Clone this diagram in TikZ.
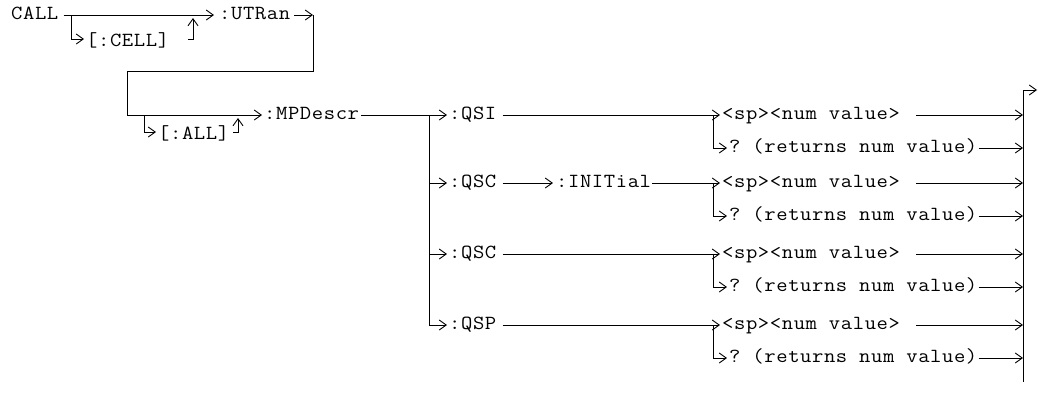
\documentclass[tikz,border=0pt]{standalone}
\usepackage{fontspec}
\setmonofont{Latin Modern Mono}[FakeStretch=1.1,LetterSpace=3]
\usetikzlibrary{arrows.meta}
\tikzset{
  txt/.style={anchor=west, inner sep=0pt, text height=12pt, text depth=3pt, font=\ttfamily\fontsize{20}{22}\selectfont},
  ln/.style={line width=0.9pt},
  arr/.style={ln, -{Straight Barb[length=7pt,width=10pt]}},
}
\begin{document}
\begin{tikzpicture}[x=1pt,y=-1pt]
\useasboundingbox[fill=white] (0,0) rectangle (1038,392);
% row 1
\node[txt] (call) at (11,15) {CALL};
\node[txt] (utran) at (219,15) {:UTRan};
\node[txt] (cell) at (86,42) {[:CELL]};
\coordinate (c1) at (71,15);
\coordinate (c2) at (193,15);
\coordinate (c3) at (188,39);
\draw[arr] ([xshift=5pt]call.east) -- ([xshift=-5pt]utran.west);
\draw[arr] (c1) |- ([xshift=-2pt,yshift=3pt]cell.west);
\draw[arr] (c3) -| ([yshift=-3pt]c2);
% loop
\coordinate (l1) at (313,15);
\coordinate (l2) at (127,71);
\node[txt] (mpd) at (264,115) {:MPDescr};
\node[txt] (all) at (158,135) {[:ALL]};
\draw[arr] ([xshift=4pt]utran.east) -- (l1);
\draw[ln] (l1) |- (l2);
\draw[arr] (l2) |- ([xshift=-2pt]mpd.west);
\coordinate (m1) at (144,115);
\coordinate (m2) at (238,115);
\coordinate (m3) at (233,132);
\draw[arr] (m1) |- ([xshift=-2pt,yshift=3pt]all.west);
\draw[arr] (m3) -| ([yshift=-3pt]m2);
% trunk
\node[txt] (qsi) at (449,115) {:QSI};
\node[txt] (qsc1) at (449,183) {:QSC};
\node[txt] (init) at (556,183) {:INITial};
\node[txt] (qsc2) at (449,254) {:QSC};
\node[txt] (qsp) at (449,325) {:QSP};
\coordinate (t0) at (429,115);
\draw[arr] ([xshift=2pt]mpd.east) -- ([xshift=-2pt]qsi.west);
\draw[arr] (t0) |- ([xshift=-2pt]qsp.west);
\draw[arr] (t0 |- qsc1.west) -- ([xshift=-2pt]qsc1.west);
\draw[arr] (t0 |- qsc2.west) -- ([xshift=-2pt]qsc2.west);
\draw[arr] ([xshift=6pt]qsc1.east) -- ([xshift=-3pt]init.west);
% right side
\coordinate (rt) at (1023,90);
\coordinate (rb) at (1023,382);
\coordinate (ex) at (1037,90);
\draw[ln] (rt) -- (rb);
\draw[arr] (rt) -- (ex);
\foreach \g/\y in {1/115,2/183,3/254,4/325}{
  \node[txt] (sp\g) at (722,\y) {<sp><num value>};
  \node[txt] (q\g) at (729,\y+33) {? (returns num value)};
  \coordinate (j\g) at (713,\y);
  \draw[arr] (j\g) -- ([xshift=-2pt]sp\g.west);
  \draw[arr] (j\g) |- ([xshift=-2pt]q\g.west);
  \draw[arr] ([xshift=16pt]sp\g.east) -- (rt |- sp\g.west);
  \draw[arr] ([xshift=1pt]q\g.east) -- (rt |- q\g.west);
}
\draw[ln] ([xshift=6pt]qsi.east) -- (j1);
\draw[ln] ([xshift=1pt]init.east) -- (j2);
\draw[ln] ([xshift=6pt]qsc2.east) -- (j3);
\draw[ln] ([xshift=6pt]qsp.east) -- (j4);
\end{tikzpicture}
\end{document}
